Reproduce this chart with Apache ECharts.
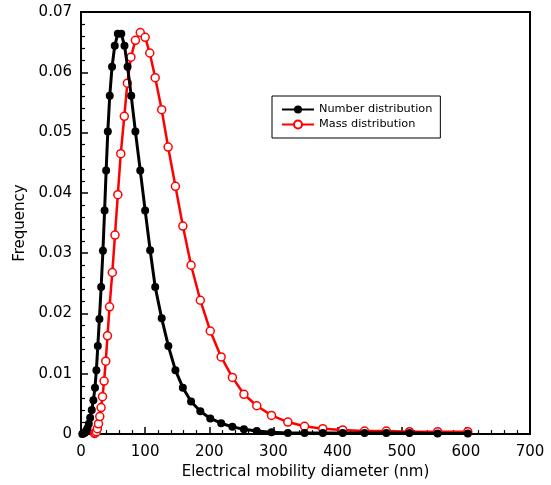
<!DOCTYPE html>
<html>
<head>
<meta charset="utf-8">
<script src="https://cdn.jsdelivr.net/npm/echarts@6/dist/echarts.min.js"></script>
<style>
html,body{margin:0;padding:0;background:#fff;}
#chart{width:551px;height:485px;}
</style>
</head>
<body>
<div id="chart"></div>
<script>
const seriesNames = ['Number distribution', 'Mass distribution'];

const numberDiameter = [2.0, 3.6, 5.2, 6.8, 8.4, 10.2, 12.2, 14.3, 16.8, 19.3, 21.8, 24.0, 26.2, 28.7, 31.4, 34.2, 36.8, 39.2, 41.8, 44.8, 48.4, 52.6, 57.4,
  62.8, 67.8, 72.6, 78.3, 84.8, 92.4, 100.0, 107.8, 115.7, 125.8, 136.2, 147.2, 158.8, 171.6, 186.0, 201.5, 218.5, 236, 254, 274, 297, 322.5, 348.5, 377, 408, 442, 476, 512, 556, 603];
const numberFreq = [0.0000, 0.0001, 0.0002, 0.0003, 0.0006, 0.0010, 0.0017, 0.0027, 0.0040, 0.0056, 0.0077, 0.0106, 0.0146, 0.0191, 0.0244, 0.0304, 0.0371, 0.0437, 0.0502, 0.0561, 0.0609, 0.0644, 0.0664,
  0.0664, 0.0644, 0.0609, 0.0561, 0.0502, 0.0437, 0.0371, 0.0305, 0.0244, 0.0192, 0.0146, 0.0106, 0.0077, 0.0054, 0.0038, 0.0026, 0.0018, 0.0012, 0.0008, 0.0005, 0.0003, 0.0002, 0.0002, 0.0002, 0.0002, 0.0002, 0.0002, 0.0002, 0.0001, 0.0001];

const massDiameter = [21.0, 22.5, 24.0, 25.5, 27.3, 29.3, 31.3, 33.5, 36.0, 38.6, 41.3, 44.5, 48.8, 53.0, 57.4, 62.0, 67.5, 72.3, 77.8, 84.8, 92.4, 100.0, 107.2, 115.7, 125.8, 135.8, 147.2, 158.8, 171.6, 186.0, 201.5, 218.5, 236, 254, 274, 297, 322.5, 348.5, 377, 408, 442, 476, 512, 556, 603];
const massFreq = [0.0001, 0.0002, 0.0004, 0.0009, 0.0017, 0.0029, 0.0044, 0.0062, 0.0088, 0.0121, 0.0163, 0.0211, 0.0268, 0.0330, 0.0397, 0.0465, 0.0527, 0.0582, 0.0625, 0.0653, 0.0666, 0.0658, 0.0632, 0.0591, 0.0538, 0.0476, 0.0411, 0.0345, 0.0280, 0.0222, 0.0171, 0.0128, 0.0094, 0.0066, 0.0047, 0.0031, 0.0020, 0.0013, 0.0009, 0.0007, 0.0005, 0.0005, 0.0004, 0.0004, 0.0004];

const xAxisRange = [0, 700, 100];
const yAxisRange = [0, 0.07, 0.01];

const FONT = 'DejaVu Sans';
const chart = echarts.init(document.getElementById('chart'), null, {renderer: 'canvas'});

function pairs(xs, ys) { return xs.map((x, i) => [x, ys[i]]); }

chart.setOption({
  animation: false,
  backgroundColor: '#fff',
  textStyle: {fontFamily: FONT, color: '#000'},
  grid: {left: 81, right: 21, top: 12, bottom: 50, show: true, borderColor: '#000', borderWidth: 2, backgroundColor: 'transparent'},
  legend: {
    data: seriesNames,
    orient: 'vertical',
    left: 272, top: 96,
    backgroundColor: '#fff',
    borderColor: '#000', borderWidth: 1, borderRadius: 0,
    padding: [8, 8, 8, 9],
    itemWidth: 32, itemHeight: 10, itemGap: 4,
    textStyle: {fontFamily: FONT, fontSize: 11.3, color: '#000'}
  },
  xAxis: {
    type: 'value', min: xAxisRange[0], max: xAxisRange[1], interval: xAxisRange[2],
    name: 'Electrical mobility diameter (nm)', nameLocation: 'middle', nameGap: 29,
    nameTextStyle: {fontFamily: FONT, fontSize: 15, color: '#000'},
    axisLine: {show: true, onZero: false, lineStyle: {color: '#000', width: 2}},
    axisTick: {show: true, inside: true, length: 7, lineStyle: {color: '#000', width: 1.5}},
    minorTick: {show: true, splitNumber: 5, length: 4, lineStyle: {color: '#000', width: 1.2}},
    splitLine: {show: false},
    axisLabel: {fontFamily: FONT, fontSize: 15, color: '#000', margin: 11}
  },
  yAxis: {
    type: 'value', min: yAxisRange[0], max: yAxisRange[1], interval: yAxisRange[2],
    name: 'Frequency', nameLocation: 'middle', nameGap: 48,
    nameTextStyle: {fontFamily: FONT, fontSize: 15, color: '#000'},
    axisLine: {show: true, onZero: false, lineStyle: {color: '#000', width: 2}},
    axisTick: {show: true, inside: true, length: 7, lineStyle: {color: '#000', width: 1.5}},
    minorTick: {show: true, splitNumber: 5, length: 4, lineStyle: {color: '#000', width: 1.2}},
    splitLine: {show: false},
    axisLabel: {fontFamily: FONT, fontSize: 15, color: '#000', margin: 9,
      formatter: v => v === 0 ? '0' : v.toFixed(2)}
  },
  series: [
    {
      name: seriesNames[1], type: 'line', z: 2, clip: false,
      data: pairs(massDiameter, massFreq),
      symbol: 'circle', symbolSize: 8,
      lineStyle: {color: '#ff0000', width: 2.5},
      itemStyle: {color: '#fff', borderColor: '#ff0000', borderWidth: 1.5}
    },
    {
      name: seriesNames[0], type: 'line', z: 3, clip: false,
      data: pairs(numberDiameter, numberFreq),
      symbol: 'circle', symbolSize: 8,
      lineStyle: {color: '#000', width: 3},
      itemStyle: {color: '#000', borderColor: '#000', borderWidth: 0}
    }
  ]
});
</script>
</body>
</html>
